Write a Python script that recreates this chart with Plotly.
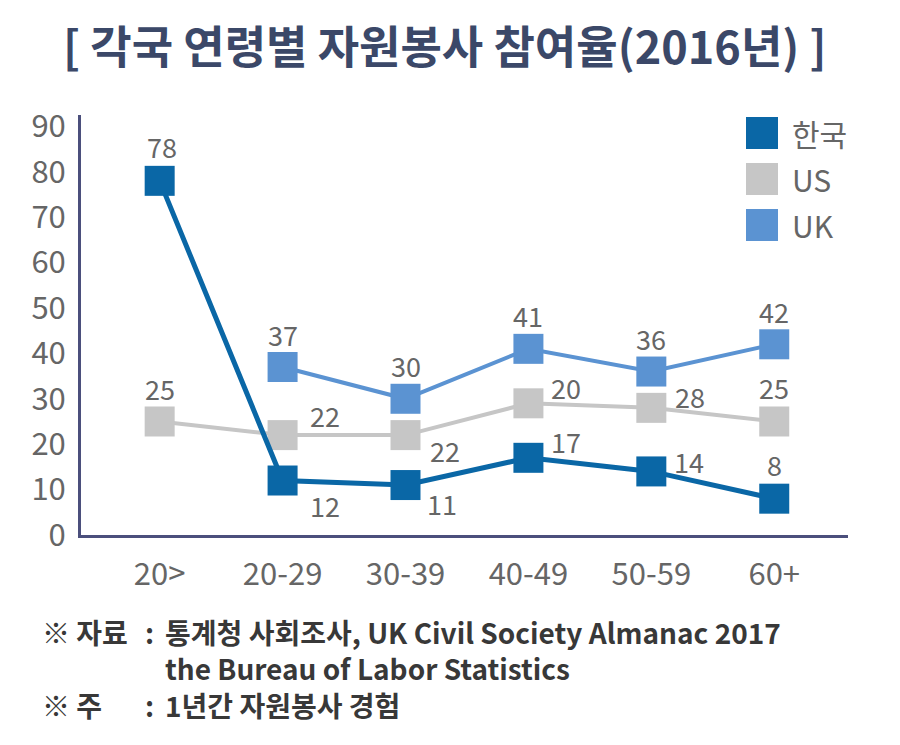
import plotly.graph_objects as go

# =============================================================================
# Data
# =============================================================================
ages = ["20>", "20-29", "30-39", "40-49", "50-59", "60+"]

korea = [78, 12, 11, 17, 14, 8]
us = [25, 22, 22, 29, 28, 25]
uk = [None, 37, 30, 41, 36, 42]

# value labels as printed on the chart
korea_text = ["78", "12", "11", "17", "14", "8"]
us_text = ["25", "22", "22", "20", "28", "25"]
uk_text = ["", "37", "30", "41", "36", "42"]

series_names = ["한국", "US", "UK"]
y_ticks = [0, 10, 20, 30, 40, 50, 60, 70, 80, 90]

# =============================================================================
# Styles
# =============================================================================
FONT = "Noto Sans CJK KR"
C_KOREA = "#0a67a6"
C_US = "#c6c6c6"
C_UK = "#5b93d2"
C_AXIS = "#4b4f7c"
C_TEXT = "#666666"

OFF = 8  # page body margin of the html page
W, H = 900 - OFF, 745 - OFF
L, R, T, B = 81 - OFF, 52, 115 - OFF, 210   # plot area (page px): x 81..848, y 115..535

# label offsets (pixels) per point
korea_off = [(2, 34), (42, -25), (36, -18), (38, 16), (38, 10), (0, 34)]
us_off = [(0, 33), (42, 20), (39, -15), (38, 16), (39, 11), (0, 34)]
uk_off = [(0, 33)] * 6


def px(x):
    # page pixel -> paper x
    return (x - OFF - L) / (W - L - R)


def py(y):
    # page pixel -> paper y
    return (H - B - (y - OFF)) / (H - T - B)


fig = go.Figure()

for name, vals, col, lw in [("US", us, C_US, 4), ("UK", uk, C_UK, 4), ("한국", korea, C_KOREA, 5)]:
    fig.add_trace(go.Scatter(x=ages, y=vals, name=name, mode="lines+markers",
                             line=dict(color=col, width=lw),
                             marker=dict(symbol="square", size=30, color=col, line=dict(width=0)),
                             showlegend=False, connectgaps=False))

annotations = []
for vals, texts, offs in [(korea, korea_text, korea_off), (us, us_text, us_off), (uk, uk_text, uk_off)]:
    for cat, v, t, (dx, dy) in zip(ages, vals, texts, offs):
        if v is None:
            continue
        annotations.append(dict(x=cat, y=v, xref="x", yref="y", text=t, showarrow=False,
                                xshift=dx, yshift=dy,
                                font=dict(family=FONT, size=27, color=C_TEXT)))

# legend (drawn by hand, squares only)
shapes = []
for i, (name, col) in enumerate(zip(series_names, [C_KOREA, C_US, C_UK])):
    cy = 133 + i * 46
    shapes.append(dict(type="rect", xref="paper", yref="paper",
                       x0=px(746), x1=px(778), y0=py(cy + 16), y1=py(cy - 16),
                       fillcolor=col, line=dict(width=0)))
    annotations.append(dict(x=px(790), y=py(cy), xref="paper", yref="paper", text=name,
                            xanchor="left", yanchor="middle", showarrow=False,
                            font=dict(family=FONT, size=30, color=C_TEXT)))

# title
annotations.append(dict(x=px(445), y=py(45), xref="paper", yref="paper",
                        text="<b>[ 각국 연령별 자원봉사 참여율(2016년) ]</b>",
                        xanchor="center", yanchor="middle", showarrow=False,
                        font=dict(family=FONT, size=45, color="#3b4868")))

# footnotes: three aligned columns, one multi-line text each
foot = [(40, "<b>※ 자료</b><br> <br><b>※ 주</b>"),
        (143, "<b>:</b><br> <br><b>:</b>"),
        (163, "<b>통계청 사회조사, UK Civil Society Almanac 2017</b><br>"
              "<b>the Bureau of Labor Statistics</b><br><b>1년간 자원봉사 경험</b>")]
for x0, t in foot:
    annotations.append(dict(x=px(x0), y=py(668), xref="paper", yref="paper", text=t,
                            xanchor="left", yanchor="middle", align="left", showarrow=False,
                            font=dict(family=FONT, size=28, color="#383838")))

fig.update_layout(
    width=W, height=H,
    margin=dict(l=L, r=R, t=T, b=B),
    paper_bgcolor="white", plot_bgcolor="white",
    annotations=annotations, shapes=shapes,
    showlegend=False,
)
fig.update_xaxes(range=[-0.64, 5.6], showline=True, linecolor=C_AXIS, linewidth=3,
                 showgrid=False, zeroline=False, ticks="outside", ticklen=10, tickcolor="rgba(0,0,0,0)",
                 tickfont=dict(family=FONT, size=31, color=C_TEXT))
fig.update_yaxes(range=[0, 92.5], showline=True, linecolor=C_AXIS, linewidth=3,
                 showgrid=False, zeroline=False, tickvals=y_ticks,
                 ticks="outside", ticklen=6, tickcolor="rgba(0,0,0,0)",
                 tickfont=dict(family=FONT, size=31, color=C_TEXT))

fig.write_html("out.html")
